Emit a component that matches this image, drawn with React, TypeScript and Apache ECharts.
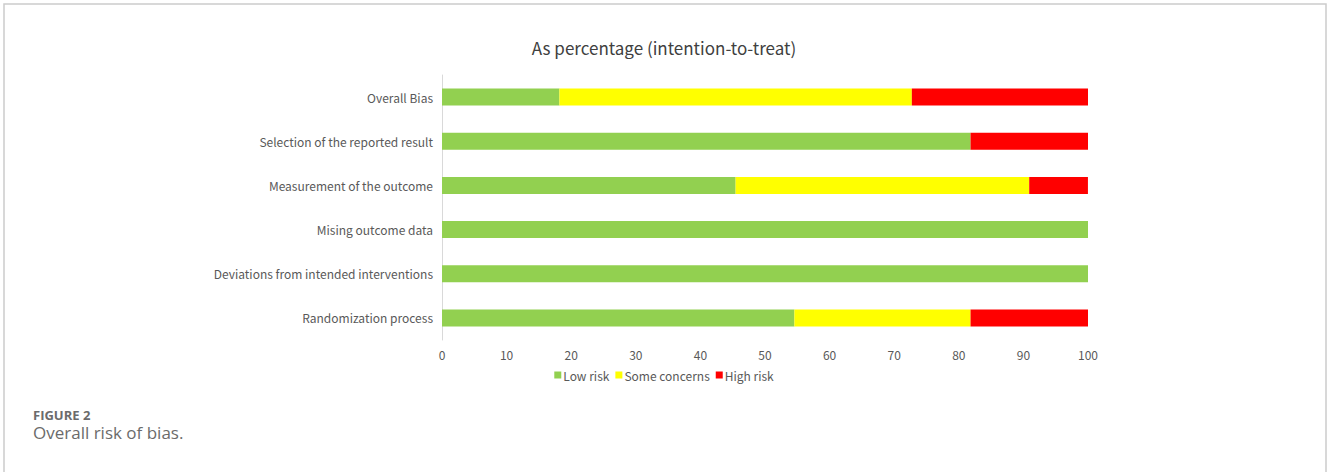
import React, { useEffect, useRef } from "react";
import * as echarts from "echarts";

const categories = [
  "Overall Bias",
  "Selection of the reported result",
  "Measurement of the outcome",
  "Mising outcome data",
  "Deviations from intended interventions",
  "Randomization process",
];
const lowRisk = [18.18, 81.82, 45.45, 100, 100, 54.55];
const someConcerns = [54.55, 0, 45.45, 0, 0, 27.27];
const highRisk = [27.27, 18.18, 9.09, 0, 0, 18.18];
const seriesNames = ["Low risk", "Some concerns", "High risk"];
const seriesColors = ["#92D050", "#FFFF00", "#FF0000"];

const FONT = "'Noto Sans CJK SC', 'Noto Sans', sans-serif";

export default function App() {
  const ref = useRef<HTMLDivElement>(null);
  useEffect(() => {
    if (!ref.current) return;
    const chart = echarts.init(ref.current, undefined, { renderer: "svg" });
    const values = [lowRisk, someConcerns, highRisk];
    chart.setOption({
      animation: false,
      backgroundColor: "#ffffff",
      textStyle: { fontFamily: FONT },
      title: {
        text: "As percentage (intention-to-treat)",
        left: "center",
        top: 34,
        textStyle: { fontSize: 17, fontWeight: "normal", color: "#404040", fontFamily: FONT },
      },
      legend: {
        data: seriesNames,
        bottom: 86,
        left: "center",
        itemWidth: 7,
        itemHeight: 7,
        itemGap: 6,
        icon: "rect",
        textStyle: { fontSize: 12, color: "#595959", padding: [0, 0, 0, -3] },
      },
      grid: { left: 442, right: 240, top: 75, bottom: 132 },
      xAxis: {
        type: "value",
        min: 0,
        max: 100,
        interval: 10,
        axisLine: { show: false },
        axisTick: { show: false },
        splitLine: { show: false },
        axisLabel: { fontSize: 12, color: "#595959", margin: 8 },
      },
      yAxis: {
        type: "category",
        data: categories,
        inverse: true,
        axisLine: { show: true, lineStyle: { color: "#d9d9d9", width: 1 } },
        axisTick: { show: false },
        axisLabel: { fontSize: 12, color: "#595959", margin: 9 },
      },
      series: seriesNames.map((name, i) => ({
        name,
        type: "bar",
        stack: "total",
        barWidth: 17,
        data: values[i],
        itemStyle: { color: seriesColors[i] },
      })),
      graphic: [
        {
          type: "rect",
          shape: { x: 4, y: 4, width: 1322, height: 520 },
          style: { fill: "none", stroke: "#cccccc", lineWidth: 1.5 },
          silent: true,
        },
        {
          type: "text",
          left: 33,
          top: 408,
          style: { text: "FIGURE 2", fontSize: 13, fontWeight: "bold", fill: "#6b6b6b", fontFamily: "'Open Sans', 'Noto Sans', sans-serif" },
        },
        {
          type: "text",
          left: 33,
          top: 424,
          style: { text: "Overall risk of bias.", fontSize: 17, fill: "#6b6b6b", fontFamily: "'Open Sans', 'Noto Sans', sans-serif" },
        },
      ],
    });
    return () => chart.dispose();
  }, []);
  return (
    <div
      ref={ref}
      style={{ position: "absolute", left: 0, top: 0, width: 1328, height: 472 }}
    />
  );
}
